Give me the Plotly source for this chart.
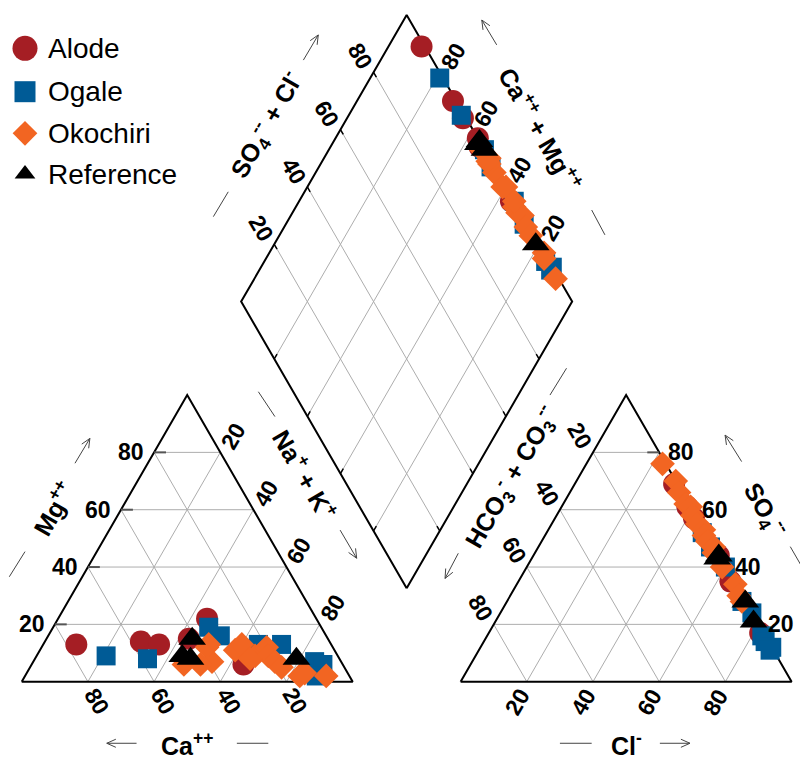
import numpy as np
import plotly.graph_objects as go

# ---------------- sample chemistry (percent of meq/L) ----------------
series = ["Alode", "Ogale", "Okochiri", "Reference"]
colors = ["#a51e24", "#005b96", "#f26522", "#000000"]
symbols = ["circle", "square", "diamond", "triangle-up"]
sizes = [22, 19, 19, 24]

alode_ca = [77, 57, 52, 42, 33, 30]
alode_mg = [13, 14, 13, 15, 22, 6]
alode_nak = [10, 29, 35, 43, 45, 64]
alode_so4 = [69, 61, 57, 44, 35, 17]
alode_hco3 = [1, 1, 1, 0, 1, 1]
alode_cl = [30, 38, 42, 56, 64, 82]

ogale_ca = [70, 58, 34, 32, 22, 15, 8, 6, 10]
ogale_mg = [9, 8, 19, 16, 13, 13, 7, 6, 2]
ogale_nak = [21, 34, 47, 52, 65, 72, 85, 88, 88]
ogale_so4 = [52, 47, 40, 28, 24, 16, 14, 12, 11]
ogale_hco3 = [1, 1, 0, 1, 0, 1, 1, 0, 1]
ogale_cl = [47, 52, 60, 71, 76, 83, 85, 88, 88]

okochiri_ca = [48, 38, 39, 30, 27, 25, 20, 21, 20, 19, 15, 13, 7, 27, 43, 37]
okochiri_mg = [6, 12, 7, 11, 13, 9, 12, 9, 7, 5, 2, 3, 2, 8, 6, 13]
okochiri_nak = [46, 50, 54, 59, 60, 66, 68, 70, 73, 76, 83, 84, 91, 65, 51, 50]
okochiri_so4 = [76, 70, 66, 62, 61, 58, 55, 53, 51, 49, 47, 45, 40, 34, 30, 28]
okochiri_hco3 = [1, 0, 1, 1, 0, 1, 1, 0, 1, 1, 0, 1, 1, 0, 1, 1]
okochiri_cl = [23, 30, 33, 37, 39, 41, 44, 47, 48, 50, 53, 54, 59, 66, 69, 71]

reference_ca = [41, 47, 45, 13]
reference_mg = [15, 9, 8, 8]
reference_nak = [44, 44, 47, 79]
reference_so4 = [44, 43, 28, 21]
reference_hco3 = [0, 1, 0, 1]
reference_cl = [56, 56, 72, 78]

tick_values = [20, 40, 60, 80]

# ---------------- Piper geometry ----------------
S = 100.0                      # triangle side
H = S * np.sqrt(3) / 2         # triangle height
GAP = 32.6                     # gap between the two triangles
OX = S + GAP                   # x origin of the anion triangle
B = np.array([S + GAP / 2, GAP * np.sqrt(3) / 2])   # bottom vertex of the diamond
VL = np.array([-S / 2, H])     # bottom -> left vertex
VR = np.array([S / 2, H])      # bottom -> right vertex
PX = 3.31                      # screen pixels per unit
X_RANGE = [-21.7 / PX, (800 - 21.7) / PX]
Y_RANGE = [-(758 - 681.7) / PX, 681.7 / PX]


def cation_xy(ca, mg, nak):
    ca, mg, nak = (np.asarray(v, float) for v in (ca, mg, nak))
    t = ca + mg + nak
    m, n = mg / t * 100, nak / t * 100
    return n + m / 2, m * H / 100


def anion_xy(hco3, so4, cl):
    hco3, so4, cl = (np.asarray(v, float) for v in (hco3, so4, cl))
    t = hco3 + so4 + cl
    s, c = so4 / t * 100, cl / t * 100
    return OX + c + s / 2, s * H / 100


def diamond_xy(camg, socl):
    camg, socl = np.asarray(camg, float) / 100, np.asarray(socl, float) / 100
    p = B[:, None] + np.outer(VL, camg) + np.outer(VR, socl)
    return p[0], p[1]


def paper_xy(px, py):
    """screen position (px from the top-left) -> axis units"""
    return X_RANGE[0] + px / PX, Y_RANGE[1] - py / PX


fig = go.Figure()

# ---------------- grid ----------------
gx, gy = [], []


def seg(a, b, xs=gx, ys=gy):
    xs += [a[0], b[0], None]
    ys += [a[1], b[1], None]


for v in tick_values:
    f = v / 100
    for ox in (0, OX):
        # horizontal lines (Mg / SO4)
        seg((ox + v / 2, f * H), (ox + S - v / 2, f * H))
        # lines parallel to the left edge
        seg((ox + v, 0), (ox + v + (S - v) / 2, (1 - f) * H))
        # lines parallel to the right edge
        seg((ox + S - v, 0), (ox + (S - v) / 2, (1 - f) * H))
    # diamond
    seg(B + f * VL, B + f * VL + VR)
    seg(B + f * VR, B + f * VR + VL)

fig.add_trace(go.Scatter(x=gx, y=gy, mode="lines", hoverinfo="skip",
                         line=dict(color="#adadad", width=1)))

# ---------------- outlines ----------------
ox_, oy_ = [], []
for ox in (0, OX):
    ox_ += [ox, ox + S, ox + S / 2, ox, None]
    oy_ += [0, 0, H, 0, None]
dia = [B, B + VL, B + VL + VR, B + VR, B]
ox_ += [p[0] for p in dia]
oy_ += [p[1] for p in dia]
fig.add_trace(go.Scatter(x=ox_, y=oy_, mode="lines", hoverinfo="skip",
                         line=dict(color="black", width=2)))

# ---------------- ticks ----------------
tx, ty = [], []
for v in tick_values:
    f = v / 100
    seg((v / 2, f * H), (v / 2 + 3.6, f * H), tx, ty)                  # Mg
    seg((OX + S - v / 2, f * H), (OX + S - v / 2 - 3.6, f * H), tx, ty)  # SO4
fig.add_trace(go.Scatter(x=tx, y=ty, mode="lines", hoverinfo="skip",
                         line=dict(color="#555555", width=2)))

dx_, dy_ = [], []
tl = 1.7 / S
for v in tick_values:
    f = v / 100
    seg(B + f * VL, B + f * VL + tl * VR, dx_, dy_)            # lower-left edge
    seg(B + f * VR, B + f * VR + tl * VL, dx_, dy_)            # lower-right edge
    seg(B + VL + f * VR, B + VL + f * VR - tl * VL, dx_, dy_)  # upper-left edge
    seg(B + VR + f * VL, B + VR + f * VL - tl * VR, dx_, dy_)  # upper-right edge
fig.add_trace(go.Scatter(x=dx_, y=dy_, mode="lines", hoverinfo="skip",
                         line=dict(color="black", width=1.5)))

# ---------------- samples ----------------
data = [
    (alode_ca, alode_mg, alode_nak, alode_hco3, alode_so4, alode_cl),
    (ogale_ca, ogale_mg, ogale_nak, ogale_hco3, ogale_so4, ogale_cl),
    (okochiri_ca, okochiri_mg, okochiri_nak, okochiri_hco3, okochiri_so4, okochiri_cl),
    (reference_ca, reference_mg, reference_nak, reference_hco3, reference_so4, reference_cl),
]

for name, col, sym, sz, (ca, mg, nak, hco3, so4, cl) in zip(series, colors, symbols, sizes, data):
    cx, cy = cation_xy(ca, mg, nak)
    ax, ay = anion_xy(hco3, so4, cl)
    camg = (np.array(ca) + np.array(mg)) / (np.array(ca) + np.array(mg) + np.array(nak)) * 100
    socl = (np.array(so4) + np.array(cl)) / (np.array(so4) + np.array(cl) + np.array(hco3)) * 100
    dx, dy = diamond_xy(camg, socl)
    fig.add_trace(go.Scatter(
        x=np.concatenate([cx, ax, dx]), y=np.concatenate([cy, ay, dy]),
        mode="markers", name=name,
        marker=dict(symbol=sym, size=sz, color=col, line=dict(width=0))))

# ---------------- labels ----------------
FONT = "Arial, Liberation Sans, sans-serif"
tick_font = dict(family=FONT, size=23, color="black", weight="bold")
title_font = dict(family=FONT, size=25, color="black", weight="bold")
ann = []


def label(x, y, text, angle=0, xanchor="center", font=tick_font):
    ann.append(dict(x=x, y=y, text=text, textangle=angle, showarrow=False,
                    xanchor=xanchor, yanchor="middle", font=font))


for v in tick_values:
    f = v / 100
    t = str(v)
    label(v / 2 - 2.4, f * H, t, 0, "right")                                   # Mg
    label(S - v + 2.6, -5.9, t, 60)                                            # Ca
    label(50 + v / 2 + 3.9, (1 - f) * H + 5.0, t, -60)                         # Na+K
    label(OX + S - v / 2 + 2.2, f * H, t, 0, "left")                           # SO4
    label(OX + v - 3.0, -6.0, t, -60)                                          # Cl
    label(OX + (S - v) / 2 - 3.9, (1 - f) * H + 5.0, t, 60)                    # HCO3
    p = B + VL + f * VR
    label(p[0] - 4.1, p[1] + 4.8, t, 60)                                       # SO4 + Cl
    p = B + VR + f * VL
    label(p[0] + 4.1, p[1] + 5.0, t, -60)                                      # Ca + Mg

label(9.6, 52.4, "Mg<sup>++</sup>", -60, font=title_font)
label(85.6, 62.8, "Na<sup>+</sup> + K<sup>+</sup>", 60, font=title_font)
label(50.0, -18.9, "Ca<sup>++</sup>", 0, font=title_font)
label(OX + 50, -18.9, "Cl<sup>-</sup>", 0, font=title_font)
label(224.5, 51.9, "SO<sub>4</sub><sup>--</sup>", 60, font=title_font)
label(148.0, 61.9, "HCO<sub>3</sub><sup>-</sup> + CO<sub>3</sub><sup>--</sup>", -60, font=title_font)
label(74.0, 168.2, "SO<sub>4</sub><sup>--</sup> + Cl<sup>-</sup>", -60, font=title_font)
label(156.6, 167.2, "Ca<sup>++</sup> + Mg<sup>++</sup>", 60, font=title_font)

# ---------------- axis direction arrows ----------------
shapes = []


def arrow(x0, y0, x1, y1, head=True):
    d = np.array([x1 - x0, y1 - y0])
    d = d / np.hypot(*d)
    path = f"M{x0},{y0} L{x1},{y1}"
    if head:
        hl, a = 3.0, np.radians(24)
        rot = lambda v, t: np.array([v[0] * np.cos(t) - v[1] * np.sin(t),
                                     v[0] * np.sin(t) + v[1] * np.cos(t)])
        h1 = np.array([x1, y1]) - hl * rot(d, a)
        h2 = np.array([x1, y1]) - hl * rot(d, -a)
        path += f" M{h1[0]},{h1[1]} L{x1},{y1} L{h2[0]},{h2[1]}"
    shapes.append(dict(type="path", path=path, xref="x", yref="y",
                       line=dict(color="#444444", width=1)))


arrow(16.1, 66.0, 20.6, 73.5)            # Mg
arrow(-3.75, 31.7, 1.0, 39.3, False)
arrow(71.5, 87.6, 76.5, 80.1, False)     # Na + K
arrow(96.2, 45.8, 101.2, 37.3)
arrow(34.7, -18.6, 25.7, -18.6)          # Ca
arrow(65.0, -18.6, 74.5, -18.6, False)
arrow(162.6, -18.6, 172.2, -18.6, False)  # Cl
arrow(192.8, -18.6, 201.9, -18.6)
arrow(217.5, 66.5, 212.5, 74.5)          # SO4
arrow(232.2, 40.8, 236.7, 33.0, False)
arrow(159.6, 86.6, 164.6, 94.7, False)   # HCO3 + CO3
arrow(131.9, 38.8, 127.9, 31.2)
arrow(85.1, 187.8, 89.6, 195.4)          # SO4 + Cl
arrow(57.9, 140.5, 62.4, 148.0, False)
arrow(143.5, 192.4, 139.0, 199.9)        # Ca + Mg
arrow(172.2, 142.5, 176.2, 135.0, False)

# ---------------- legend ----------------
legend_rows = [48.3, 91.7, 133.3, 174.0]
legend_sizes = [25, 21, 19, 18]
for name, col, sym, sz, row in zip(series, colors, symbols, legend_sizes, legend_rows):
    mx, my = paper_xy(25, row)
    fig.add_trace(go.Scatter(x=[mx], y=[my], mode="markers", hoverinfo="skip",
                             marker=dict(symbol=sym, size=sz, color=col, line=dict(width=0))))
    tx_, ty_ = paper_xy(46, row)
    ann.append(dict(x=tx_, y=ty_, text=name, showarrow=False, xanchor="left",
                    yanchor="middle", font=dict(family=FONT, size=28, color="black")))

fig.update_layout(
    width=800, height=758, margin=dict(l=0, r=0, t=0, b=0),
    paper_bgcolor="white", plot_bgcolor="white", showlegend=False,
    xaxis=dict(range=X_RANGE, visible=False, fixedrange=True),
    yaxis=dict(range=Y_RANGE, visible=False, fixedrange=True),
    annotations=ann, shapes=shapes,
)

fig.write_html("out.html")
